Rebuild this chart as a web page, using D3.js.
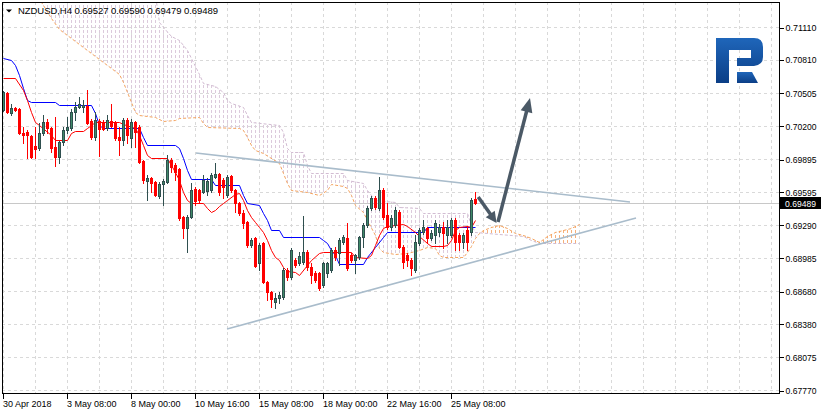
<!DOCTYPE html>
<html><head><meta charset="utf-8">
<script src="https://cdn.jsdelivr.net/npm/d3@7"></script>
<style>html,body{margin:0;padding:0;background:#fff;}svg{display:block;}</style>
</head><body><svg id="c" width="821" height="414"></svg>
<script>
// ---------------- DATA ----------------
const symbol = "NZDUSD,H4";
const lastOHLC = [0.69527, 0.69590, 0.69479, 0.69489];
const lastPrice = 0.69489;
const xLabels = ["30 Apr 2018","3 May 08:00","8 May 00:00","10 May 16:00","15 May 08:00","18 May 00:00","22 May 16:00","25 May 08:00"];
const xLabelBars = [0,16,32,48,64,80,96,112];
const yTicks = [0.71110,0.70810,0.70505,0.70200,0.69895,0.69595,0.69290,0.68985,0.68680,0.68380,0.68075,0.67770];

const open = [0.70346,0.70503,0.70319,0.70365,0.70356,0.70135,0.70144,0.70107,0.70015,0.69997,0.70135,0.70236,0.70181,0.70006,0.69914,0.70052,0.70162,0.70181,0.70328,0.70374,0.70374,0.70383,0.70245,0.70098,0.70245,0.70236,0.70181,0.70245,0.70236,0.70098,0.70070,0.70254,0.70089,0.70236,0.70190,0.69877,0.69693,0.69721,0.69684,0.69555,0.69666,0.69684,0.69886,0.69840,0.69804,0.69362,0.69261,0.69362,0.69620,0.69610,0.69592,0.69601,0.69610,0.69730,0.69758,0.69702,0.69564,0.69739,0.69610,0.69491,0.69399,0.69316,0.69104,0.69169,0.68939,0.69123,0.68764,0.68672,0.68580,0.68617,0.68626,0.68874,0.68810,0.68966,0.68939,0.68948,0.69040,0.68902,0.68847,0.68847,0.68736,0.68847,0.68874,0.69058,0.69031,0.69132,0.69169,0.69012,0.68966,0.68994,0.69178,0.69288,0.69445,0.69537,0.69445,0.69610,0.69380,0.69270,0.69288,0.69408,0.69086,0.69012,0.68966,0.68874,0.69123,0.69224,0.69261,0.69169,0.69196,0.69224,0.69270,0.69196,0.69196,0.69334,0.69196,0.69132,0.69242,0.69224,0.69527];
const high = [0.70521,0.70512,0.70402,0.70374,0.70365,0.70190,0.70162,0.70116,0.70190,0.70227,0.70300,0.70264,0.70190,0.70282,0.70061,0.70190,0.70282,0.70356,0.70420,0.70466,0.70438,0.70530,0.70264,0.70328,0.70264,0.70254,0.70300,0.70402,0.70245,0.70190,0.70273,0.70273,0.70264,0.70245,0.70208,0.69886,0.69748,0.69730,0.69693,0.69684,0.69712,0.69932,0.69905,0.69859,0.69813,0.69371,0.69380,0.69675,0.69638,0.69620,0.69748,0.69721,0.69767,0.69859,0.69767,0.69721,0.69748,0.69748,0.69620,0.69500,0.69426,0.69325,0.69169,0.69178,0.69123,0.69132,0.68773,0.68681,0.68663,0.68672,0.68893,0.68893,0.69077,0.68985,0.69040,0.69371,0.69058,0.68939,0.68865,0.68856,0.68948,0.68948,0.69077,0.69086,0.69169,0.69196,0.69307,0.69031,0.69022,0.69187,0.69307,0.69463,0.69555,0.69555,0.69730,0.69629,0.69491,0.69380,0.69454,0.69426,0.69104,0.69031,0.68985,0.69196,0.69261,0.69334,0.69270,0.69242,0.69334,0.69298,0.69316,0.69334,0.69353,0.69353,0.69215,0.69215,0.69279,0.69537,0.69590];
const low = [0.70337,0.70319,0.70300,0.70337,0.70126,0.70043,0.69905,0.69905,0.69905,0.69978,0.70116,0.70135,0.69960,0.69831,0.69859,0.70024,0.70135,0.70162,0.70254,0.70365,0.70328,0.70218,0.70080,0.70070,0.69923,0.70162,0.70162,0.70190,0.70070,0.69932,0.70024,0.70043,0.70006,0.70006,0.69859,0.69675,0.69518,0.69592,0.69555,0.69537,0.69472,0.69675,0.69776,0.69702,0.69334,0.69169,0.69040,0.69353,0.69472,0.69491,0.69583,0.69564,0.69592,0.69721,0.69564,0.69537,0.69546,0.69592,0.69408,0.69380,0.69261,0.69086,0.69086,0.68902,0.68874,0.68755,0.68598,0.68534,0.68525,0.68571,0.68608,0.68782,0.68792,0.68902,0.68920,0.68930,0.68874,0.68755,0.68764,0.68690,0.68718,0.68810,0.68856,0.68966,0.68920,0.69114,0.68874,0.68948,0.68847,0.68976,0.69086,0.69270,0.69426,0.69436,0.69426,0.69344,0.69252,0.69242,0.69270,0.69077,0.68893,0.68911,0.68828,0.68856,0.69104,0.69206,0.69123,0.69150,0.69123,0.69187,0.69077,0.69123,0.69178,0.69058,0.69058,0.69077,0.69058,0.69196,0.69479];
const close = [0.70512,0.70328,0.70365,0.70346,0.70135,0.70116,0.70116,0.69914,0.69988,0.70135,0.70236,0.70181,0.69997,0.69914,0.70052,0.70162,0.70190,0.70328,0.70374,0.70402,0.70392,0.70227,0.70098,0.70254,0.70172,0.70172,0.70254,0.70199,0.70089,0.70070,0.70254,0.70116,0.70236,0.70144,0.69868,0.69702,0.69721,0.69675,0.69564,0.69666,0.69693,0.69886,0.69822,0.69776,0.69353,0.69261,0.69362,0.69610,0.69509,0.69518,0.69702,0.69693,0.69748,0.69758,0.69592,0.69638,0.69730,0.69610,0.69491,0.69399,0.69307,0.69104,0.69150,0.68911,0.69104,0.68764,0.68672,0.68608,0.68617,0.68644,0.68874,0.68810,0.69058,0.68920,0.69003,0.69040,0.68902,0.68828,0.68782,0.68709,0.68939,0.68939,0.69058,0.68994,0.69150,0.69178,0.68893,0.68966,0.69012,0.69178,0.69288,0.69445,0.69537,0.69454,0.69610,0.69362,0.69270,0.69353,0.69426,0.69086,0.68948,0.68966,0.68893,0.69132,0.69242,0.69270,0.69169,0.69215,0.69307,0.69270,0.69215,0.69270,0.69334,0.69132,0.69132,0.69196,0.69132,0.69518,0.69489];

// Ichimoku lines: [bar, price] turning points
const tenkan = [[0,.70641],[3,.70641],[5,.70530],[6,.70438],[7,.70328],[8,.70236],[9,.70208],[12,.70116],[13,.70070],[16,.70070],[17,.70135],[18,.70153],[20,.70153],[21,.70181],[22,.70208],[23,.70236],[29,.70236],[30,.70218],[33,.70181],[34,.70116],[35,.70024],[36,.69932],[37,.69905],[41,.69905],[42,.69840],[43,.69776],[44,.69702],[45,.69592],[46,.69518],[47,.69491],[50,.69491],[51,.69445],[52,.69408],[53,.69426],[54,.69463],[55,.69491],[56,.69518],[58,.69574],[59,.69583],[60,.69518],[61,.69426],[62,.69362],[63,.69316],[64,.69270],[65,.69224],[66,.69150],[67,.69058],[68,.68994],[69,.68966],[70,.68902],[71,.68865],[73,.68856],[74,.68828],[76,.68920],[77,.68966],[79,.69031],[80,.69040],[87,.69040],[88,.68994],[91,.68985],[92,.69012],[93,.69104],[94,.69196],[95,.69261],[96,.69279],[100,.69298],[101,.69279],[103,.69224],[104,.69187],[106,.69123],[107,.69095],[110,.69095],[111,.69104],[112,.69150],[113,.69242],[114,.69270],[116,.69279],[117,.69270],[118,.69334]];
const kijun = [[0,.70825],[2,.70806],[3,.70760],[4,.70668],[5,.70548],[6,.70438],[7,.70420],[13,.70420],[14,.70392],[22,.70392],[23,.70319],[24,.70208],[25,.70181],[34,.70181],[35,.70098],[36,.70024],[43,.70024],[44,.69997],[45,.69905],[46,.69794],[47,.69712],[52,.69712],[53,.69656],[59,.69656],[60,.69564],[61,.69491],[64,.69472],[65,.69399],[66,.69334],[67,.69242],[69,.69242],[70,.69178],[79,.69178],[80,.69150],[81,.69123],[82,.69058],[83,.69012],[84,.68930],[90,.68930],[91,.68994],[93,.69086],[95,.69178],[96,.69224],[105,.69224],[106,.69270],[118,.69270]];
const spanA = [[6,.71543],[10,.71312],[12,.71193],[14,.71092],[16,.71036],[19,.70954],[21,.70898],[24,.70816],[27,.70733],[29,.70678],[30,.70604],[31,.70512],[32,.70420],[33,.70328],[34,.70300],[38,.70282],[40,.70245],[43,.70254],[44,.70273],[49,.70282],[50,.70227],[51,.70190],[59,.70181],[60,.70162],[61,.70098],[62,.70024],[63,.69978],[65,.69951],[69,.69859],[70,.69767],[71,.69675],[72,.69610],[76,.69592],[79,.69564],[81,.69610],[82,.69666],[85,.69647],[86,.69629],[87,.69564],[88,.69472],[90,.69408],[91,.69334],[93,.69196],[94,.69077],[95,.69040],[98,.69022],[101,.69031],[104,.69058],[106,.69086],[108,.69077],[109,.69012],[110,.68994],[115,.68994],[116,.69040],[117,.69095],[118,.69169],[119,.69215],[120,.69242],[122,.69270],[124,.69288],[126,.69261],[128,.69215],[130,.69196],[132,.69169],[134,.69132],[136,.69187],[138,.69224],[140,.69242],[142,.69261],[144,.69298]];
const spanB = [[6,.71726],[38,.71404],[39,.71156],[40,.71110],[42,.71027],[44,.70990],[45,.70944],[46,.70898],[47,.70825],[49,.70678],[50,.70595],[53,.70567],[55,.70512],[56,.70438],[57,.70411],[60,.70374],[61,.70300],[62,.70236],[69,.70208],[70,.70144],[71,.69997],[72,.69960],[75,.69960],[76,.69840],[77,.69767],[85,.69767],[86,.69702],[90,.69675],[91,.69610],[93,.69518],[98,.69500],[99,.69454],[104,.69445],[105,.69399],[116,.69399],[117,.69288],[118,.69224],[130,.69187],[132,.69150],[134,.69123],[144,.69123]];

// drawn objects: [bar, price]
const trendUpper = [[48.25,0.69950],[156.75,0.69500]];
const trendLower = [[56,0.68332],[158.25,0.69353]];
const arrowDown = [[118.8,0.69546],[123.4,0.69307]];
const arrowUp = [[123.75,0.69316],[131.75,0.70456]];

// ---------------- DRAWING ----------------
const W = 821, H = 414;
const L = 2, R = 779, T = 2, B = 393;
const svg = d3.select("#c");
const x = d3.scaleLinear().domain([0, 194]).range([3, 779]);
const y = d3.scaleLinear().domain([0.67770, 0.71110]).range([390, 27]);
const FONT = "'Liberation Sans', Arial, sans-serif";

const defs = svg.append("defs");
defs.append("clipPath").attr("id","plot").append("rect").attr("x",L).attr("y",T).attr("width",R-L).attr("height",B-T);

function hatch(id, color){
  const p = defs.append("pattern").attr("id",id).attr("patternUnits","userSpaceOnUse")
    .attr("x",3).attr("y",0).attr("width",4).attr("height",5);
  p.append("rect").attr("x",0).attr("y",0).attr("width",1).attr("height",3).attr("fill",color);
}
hatch("hatchA","#f6b07a");
hatch("hatchB","#dccadc");

// grid
const grid = svg.append("g").attr("stroke","#d9d9d9").attr("stroke-dasharray","3,3").attr("shape-rendering","crispEdges");
yTicks.forEach(v => {
  const yy = Math.round(y(v)) + 0.5;
  grid.append("line").attr("x1",L).attr("x2",R).attr("y1",yy).attr("y2",yy);
});
d3.range(0, 195, 8).forEach(b => {
  const xx = Math.round(x(b)) + 0.5;
  grid.append("line").attr("x1",xx).attr("x2",xx).attr("y1",T).attr("y2",B);
});

const plot = svg.append("g").attr("clip-path","url(#plot)");

// current price line
plot.append("line").attr("x1",L).attr("x2",R)
  .attr("y1",Math.round(y(lastPrice))+0.5).attr("y2",Math.round(y(lastPrice))+0.5)
  .attr("stroke","#c8c8c8").attr("shape-rendering","crispEdges");

// cloud
const aboveArea = d3.area().x(d=>x(d[0])).y0(-50).y1(d=>y(d[1]));
const belowArea = d3.area().x(d=>x(d[0])).y0(d=>y(d[1])).y1(450);
defs.append("clipPath").attr("id","aboveB").append("path").attr("d", aboveArea(spanB));
defs.append("clipPath").attr("id","aboveA").append("path").attr("d", aboveArea(spanA));
plot.append("g").attr("clip-path","url(#aboveB)")
  .append("path").attr("d", belowArea(spanA)).attr("fill","url(#hatchA)");
plot.append("g").attr("clip-path","url(#aboveA)")
  .append("path").attr("d", belowArea(spanB)).attr("fill","url(#hatchB)");

const line = d3.line().x(d=>x(d[0])+0.5).y(d=>Math.round(y(d[1]))+0.5);
plot.append("path").attr("d", line(spanB)).attr("fill","none").attr("stroke","#d2bcd2").attr("stroke-dasharray","3,2");
plot.append("path").attr("d", line(spanA)).attr("fill","none").attr("stroke","#f4a460").attr("stroke-dasharray","3,2");
plot.append("path").attr("d", line(kijun)).attr("fill","none").attr("stroke","#0000ff").attr("stroke-width",1);
plot.append("path").attr("d", line(tenkan)).attr("fill","none").attr("stroke","#ff0000").attr("stroke-width",1);

// candles
const cg = plot.append("g").attr("shape-rendering","crispEdges");
open.forEach((o,i) => {
  const c = close[i], bull = c >= o;
  const cx = Math.round(x(i));
  const yh = Math.round(y(high[i])), yl = Math.round(y(low[i]));
  const yt = Math.round(y(Math.max(o,c))), yb = Math.round(y(Math.min(o,c)));
  cg.append("line").attr("x1",cx+0.5).attr("x2",cx+0.5).attr("y1",yh).attr("y2",yl+1)
    .attr("stroke", bull ? "#2f4f4f" : "#ff0000");
  if (bull) {
    cg.append("rect").attr("x",cx-0.5).attr("y",yt+0.5).attr("width",2).attr("height",Math.max(1,yb-yt))
      .attr("fill","#3f8a68").attr("stroke","#2f4f4f");
  } else {
    cg.append("rect").attr("x",cx-1).attr("y",yt).attr("width",3).attr("height",Math.max(1,yb-yt+1))
      .attr("fill","#ff0000");
  }
});

// trend lines
[trendUpper, trendLower].forEach(t => {
  plot.append("line").attr("x1",x(t[0][0])).attr("y1",y(t[0][1])).attr("x2",x(t[1][0])).attr("y2",y(t[1][1]))
    .attr("stroke","#a9bccb").attr("stroke-width",1.6);
});

// arrows
function arrow(a, w, headLen, headW){
  const x0 = x(a[0][0]), y0 = y(a[0][1]), x1 = x(a[1][0]), y1 = y(a[1][1]);
  const dx = x1-x0, dy = y1-y0, len = Math.hypot(dx,dy), ux = dx/len, uy = dy/len;
  const bx = x1 - ux*headLen, by = y1 - uy*headLen;
  plot.append("line").attr("x1",x0).attr("y1",y0).attr("x2",bx+ux*2).attr("y2",by+uy*2)
    .attr("stroke","#4b5966").attr("stroke-width",w).attr("stroke-linecap","butt");
  plot.append("path").attr("d", `M${x1},${y1}L${bx-uy*headW},${by+ux*headW}L${bx+uy*headW},${by-ux*headW}Z`)
    .attr("fill","#4b5966");
}
arrow(arrowDown, 3.5, 11, 5.5);
arrow(arrowUp, 3.5, 14, 6);

// frame
svg.append("g").attr("stroke","#000").attr("shape-rendering","crispEdges").call(g => {
  g.append("line").attr("x1",L+0.5).attr("x2",L+0.5).attr("y1",T).attr("y2",B+1);
  g.append("line").attr("x1",R+0.5).attr("x2",R+0.5).attr("y1",T).attr("y2",B+1);
  g.append("line").attr("x1",L).attr("x2",R+1).attr("y1",B+0.5).attr("y2",B+0.5);
  g.append("line").attr("x1",L).attr("x2",R+1).attr("y1",T+0.5).attr("y2",T+0.5);
});

// y axis
const yAxis = svg.append("g").attr("transform",`translate(${R+0.5},0.5)`)
  .call(d3.axisRight(y).tickValues(yTicks).tickFormat(d3.format(".5f")).tickSize(4).tickPadding(2));
yAxis.select(".domain").remove();
yAxis.selectAll("line").attr("stroke","#000").attr("shape-rendering","crispEdges");
yAxis.selectAll("text").attr("font-family",FONT).attr("font-size","9px").attr("fill","#000")
  .attr("textLength",31).attr("lengthAdjust","spacingAndGlyphs");

// x axis
const xAxis = svg.append("g").attr("transform",`translate(0.5,${B+0.5})`)
  .call(d3.axisBottom(x).tickValues(xLabelBars).tickFormat((d,i)=>xLabels[i]).tickSize(5).tickPadding(3));
xAxis.select(".domain").remove();
xAxis.selectAll("line").attr("stroke","#000").attr("shape-rendering","crispEdges").attr("transform","translate(-1,0)");
xAxis.selectAll("text").attr("font-family",FONT).attr("font-size","9px").attr("fill","#000")
  .attr("text-anchor","start").attr("dx","-1").attr("dy","0.6em");

// current price label
const py = Math.round(y(lastPrice));
svg.append("rect").attr("x",R+1).attr("y",py-6).attr("width",W-R-1).attr("height",12).attr("fill","#000");
svg.append("text").attr("x",R+6).attr("y",py+4).attr("font-family",FONT).attr("font-size","9px")
  .attr("fill","#fff").attr("textLength",31).attr("lengthAdjust","spacingAndGlyphs")
  .text(d3.format(".5f")(lastPrice));

// header
svg.append("path").attr("d","M6,9.5L12,9.5L9,12.5Z").attr("fill","#000");
svg.append("text").attr("x",18).attr("y",14).attr("font-family",FONT).attr("font-size","9.5px").attr("fill","#000")
  .attr("textLength",200).attr("lengthAdjust","spacing")
  .text(symbol + " " + lastOHLC.map(d3.format(".5f")).join(" "));

// logo
const grad = defs.append("linearGradient").attr("id","lg").attr("x1",0).attr("y1",0).attr("x2",0).attr("y2",1);
grad.append("stop").attr("offset","0").attr("stop-color","#1f66ba");
grad.append("stop").attr("offset","1").attr("stop-color","#0b3e86");
svg.append("path").attr("fill","url(#lg)")
  .attr("d","M716,38L754,38Q763,38 763,47L763,57Q763,65 754,66L737,66L737,58L751,58L751,50L729,50L729,83L716,83Z");
svg.append("path").attr("fill","url(#lg)").attr("d","M737,72L752,72L758,83L737,83Z");
</script></body></html>
